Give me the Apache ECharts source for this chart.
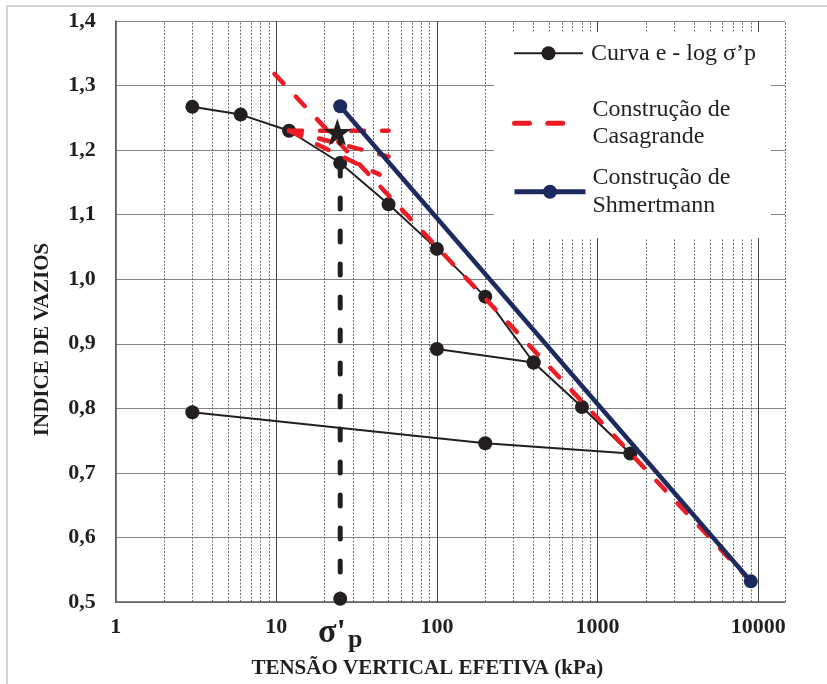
<!DOCTYPE html>
<html><head><meta charset="utf-8">
<script src="https://cdn.jsdelivr.net/npm/echarts@6.0.0/dist/echarts.min.js"></script>
<style>html,body{margin:0;padding:0;background:#fff}#c{width:827px;height:684px}</style>
</head><body><div id="c"></div>
<script>
// ---- axis definitions ----
const X_TICK_LABELS = [1, 10, 100, 1000, 10000];
const X_MINOR = [2,3,4,5,6,7,8,9, 20,30,40,50,60,70,80,90, 200,300,400,500,600,700,800,900, 2000,3000,4000,5000,6000,7000,8000,9000];
const X_MIN = 1, X_MAX = 14700;
const Y_MIN = 0.5, Y_MAX = 1.4, Y_STEP = 0.1;

// ---- data ----
const curveSigma = [3, 6, 12, 25, 50, 100, 200, 400, 100, 400, 800, 1600, 200, 3];
const curveE     = [1.267, 1.255, 1.230, 1.180, 1.116, 1.047, 0.973, 0.871, 0.892, 0.871, 0.802, 0.730, 0.746, 0.794];

const casVirginSigma = [9.75, 9000];
const casVirginE     = [1.318, 0.532];
const casHorizSigma  = [12, 50];
const casHorizE      = [1.230, 1.230];
const casTangSigma   = [12, 44];
const casTangE       = [1.230, 1.162];
const casBisSigma    = [12, 50];
const casBisE        = [1.230, 1.190];

const shmSigma = [25, 9000];
const shmE     = [1.268, 0.532];

const sigmaPLineSigma = [25, 25];
const sigmaPLineE     = [1.228, 0.505];
const sigmaPPoint = [25, 0.505];
const starPoint   = [24, 1.228];

const NAME_CURVE = 'Curva e - log σ’p';
const NAME_CAS = 'Construção de Casagrande';
const NAME_SHM = 'Construção de Shmertmann';

const zip = (a, b) => a.map((v, i) => [v, b[i]]);
const SERIF = "'Liberation Serif', 'Times New Roman', serif";
const INK = '#231f20';
const RED = '#ed1c24';
const BLUE = '#1c2a5e';

const chart = echarts.init(document.getElementById('c'), null, {renderer: 'canvas'});

const casStyle = {color: RED, width: 4.5, type: [13, 18], cap: 'round'};
function casSeries(xs, ys) {
  return {
    type: 'line', name: NAME_CAS, data: zip(xs, ys), symbol: 'none', color: RED,
    lineStyle: casStyle, z: 4, silent: true
  };
}

const option = {
  backgroundColor: '#fff',
  animation: false,
  grid: {left: 115.7, top: 21, right: 42, bottom: 81, containLabel: false},
  xAxis: {
    type: 'log', logBase: 10, min: X_MIN, max: X_MAX,
    axisLine: {show: true, onZero: false, lineStyle: {color: '#58595b', width: 1.5}},
    axisTick: {show: false},
    axisLabel: {
      margin: 14, color: INK, fontFamily: SERIF, fontWeight: 'bold', fontSize: 22,
      showMaxLabel: false,
      formatter: v => { const r = Math.round(v); return (X_TICK_LABELS.indexOf(r) >= 0 && Math.abs(v - r) < 1e-6) ? String(r) : ''; }
    },
    splitLine: {show: true, showMaxLine: false, lineStyle: {color: '#414042', width: 1}},
    name: 'TENSÃO VERTICAL EFETIVA (kPa)', nameLocation: 'middle', nameGap: 56,
    nameTextStyle: {color: INK, fontFamily: SERIF, fontWeight: 'bold', fontSize: 21, padding: [0, 46, 0, 0]}
  },
  yAxis: {
    type: 'value', min: Y_MIN, max: Y_MAX, interval: Y_STEP,
    axisLine: {show: true, lineStyle: {color: '#58595b', width: 1.5}},
    axisTick: {show: false},
    axisLabel: {
      margin: 20, color: INK, fontFamily: SERIF, fontWeight: 'bold', fontSize: 22,
      formatter: v => v.toFixed(1).replace('.', ',')
    },
    splitLine: {show: true, lineStyle: {color: '#808285', width: 1.2}},
    name: 'INDICE DE VAZIOS', nameLocation: 'middle', nameGap: 63,
    nameTextStyle: {color: INK, fontFamily: SERIF, fontWeight: 'bold', fontSize: 21, padding: [0, 56, 0, 0]}
  },
  legend: [
    {
      data: [NAME_CURVE], left: 513, top: 39.3, padding: 0, z: 20, selectedMode: false,
      itemWidth: 69, itemHeight: 17.5,
      lineStyle: {width: 2, color: INK},
      textStyle: {fontFamily: SERIF, fontSize: 24, color: INK, lineHeight: 28, padding: [0, 0, 0, 3]}
    },
    {
      data: [NAME_CAS], left: 512, top: 82.05, padding: 0, z: 20, selectedMode: false,
      itemWidth: 53, itemHeight: 10,
      itemStyle: {opacity: 0},
      lineStyle: {width: 5, color: RED, type: [15, 18.3], cap: 'round'},
      formatter: () => 'Construção de\nCasagrande',
      textStyle: {fontFamily: SERIF, fontSize: 24, color: INK, lineHeight: 27.5, padding: [27.5, 0, 0, 20]}
    },
    {
      data: [NAME_SHM], left: 512, top: 149.25, padding: 0, z: 20, selectedMode: false,
      itemWidth: 71, itemHeight: 17.5,
      lineStyle: {width: 5, color: BLUE},
      formatter: () => 'Construção de\nShmertmann',
      textStyle: {fontFamily: SERIF, fontSize: 24, color: INK, lineHeight: 28.3, padding: [28.3, 0, 0, 2]}
    }
  ],
  graphic: {
    elements: [
      {type: 'rect', z: 10, silent: true, shape: {x: 494, y: 32, width: 277, height: 206}, style: {fill: '#fff'}},
      {type: 'rect', z: 30, silent: true, shape: {x: 7, y: 6, width: 1000, height: 1000}, style: {fill: 'none', stroke: '#d1d3d4', lineWidth: 2}}
    ]
  },
  series: [
    {
      type: 'line', name: 'minor-grid', data: [[X_MIN, Y_MIN]], showSymbol: false, symbol: 'none',
      lineStyle: {opacity: 0}, silent: true, z: 1,
      markLine: {
        silent: true, symbol: 'none', z: 1, animation: false,
        label: {show: false}, emphasis: {disabled: true},
        lineStyle: {color: '#6d6e71', width: 1, type: [2, 1.5]},
        data: X_MINOR.concat([X_MAX]).map(v => ({xAxis: v}))
      }
    },
    {
      type: 'line', name: NAME_CURVE, data: zip(curveSigma, curveE), z: 3,
      symbol: 'circle', symbolSize: 14, color: INK,
      itemStyle: {color: INK, opacity: 1}, lineStyle: {color: INK, width: 2}
    },
    casSeries(casVirginSigma, casVirginE),
    casSeries(casHorizSigma, casHorizE),
    casSeries(casTangSigma, casTangE),
    casSeries(casBisSigma, casBisE),
    {
      type: 'line', name: NAME_SHM, data: zip(shmSigma, shmE), z: 5,
      symbol: 'circle', symbolSize: 14, color: BLUE,
      itemStyle: {color: BLUE, opacity: 1}, lineStyle: {color: BLUE, width: 4.5}
    },
    {
      type: 'line', name: 'sigma-p-line', data: zip(sigmaPLineSigma, sigmaPLineE), z: 6,
      symbol: 'none', lineStyle: {color: INK, width: 5, type: [11, 22], cap: 'round'}, silent: true
    },
    {
      type: 'scatter', name: 'sigma-p', data: [sigmaPPoint], z: 7,
      symbol: 'circle', symbolSize: 14, itemStyle: {color: INK, opacity: 1}, silent: true,
      label: {
        show: true, position: 'bottom', distance: 6, opacity: 1,
        formatter: "{s|σ'}{p|p}",
        rich: {
          s: {fontFamily: SERIF, fontWeight: 'bold', fontSize: 34, color: INK},
          p: {fontFamily: SERIF, fontWeight: 'bold', fontSize: 26, color: INK, padding: [16, 0, 0, 2]}
        }
      }
    },
    {
      type: 'scatter', name: 'star', data: [starPoint], z: 8, silent: true,
      symbol: 'path://M50,0 L61.8,35.1 L98.1,35.1 L68.8,56.7 L79.4,91.3 L50,70 L20.6,91.3 L31.2,56.7 L1.9,35.1 L38.2,35.1 Z',
      symbolSize: [28, 27], itemStyle: {color: INK, opacity: 1}
    }
  ]
};
chart.setOption(option);
</script>
</body></html>
